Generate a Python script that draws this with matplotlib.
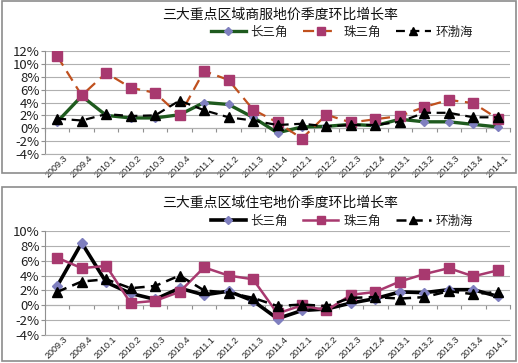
import numpy as np
import matplotlib.pyplot as plt
from matplotlib.patches import Rectangle
from matplotlib.ticker import FuncFormatter

plt.rcParams['font.family'] = ['Noto Sans CJK SC', 'DejaVu Sans']

quarters = ['2009.3', '2009.4', '2010.1', '2010.2', '2010.3', '2010.4',
            '2011.1', '2011.2', '2011.3', '2011.4', '2012.1', '2012.2',
            '2012.3', '2012.4', '2013.1', '2013.2', '2013.3', '2013.4', '2014.1']
names = ['长三角', '珠三角', '环渤海']

# 商服地价 (commercial), %
com_csj = [1.0, 5.0, 2.0, 1.6, 1.6, 2.1, 4.0, 3.7, 1.7, -0.7, 0.2, 0.3,
           0.6, 0.4, 1.4, 1.0, 1.0, 0.6, 0.2]
com_zsj = [11.2, 5.1, 8.6, 6.3, 5.5, 2.0, 8.9, 7.5, 2.9, 0.9, -1.6, 2.1,
           0.9, 1.4, 1.9, 3.3, 4.4, 3.9, 1.5]
com_hbh = [1.5, 1.2, 2.2, 1.9, 2.0, 4.3, 2.8, 1.7, 1.2, 0.5, 0.7, 0.3,
           0.5, 0.5, 1.0, 2.4, 2.4, 1.7, 1.7]

# 住宅地价 (residential), %
res_csj = [2.6, 8.4, 3.1, 1.6, 0.8, 2.3, 1.4, 1.9, 0.6, -1.8, -0.7, -0.5,
           0.3, 0.9, 1.8, 1.7, 2.1, 2.1, 1.2]
res_zsj = [6.4, 5.0, 5.3, 0.3, 0.6, 1.8, 5.1, 4.0, 3.5, -1.1, 0.0, -0.7,
           1.4, 1.8, 3.2, 4.2, 5.0, 3.9, 4.7]
res_hbh = [1.8, 3.2, 3.5, 2.3, 2.6, 4.0, 2.0, 1.7, 1.0, -0.1, 0.1, -0.1,
           1.0, 1.1, 0.9, 1.1, 1.9, 1.5, 1.8]

W, H = 518, 363
fig = plt.figure(figsize=(W / 100, H / 100), dpi=100)

def px(x0, y0, x1, y1):
    return [x0 / W, 1 - y1 / H, (x1 - x0) / W, (y1 - y0) / H]

# panel frames
for (y0, y1) in [(1, 173), (187, 361)]:
    fig.patches.append(Rectangle((2 / W, 1 - y1 / H), 514 / W, (y1 - y0) / H,
                                 transform=fig.transFigure, fill=False,
                                 edgecolor='#8c8c8c', linewidth=1.2))

def panel(rect, ymax, title, series, styles, title_y, leg_y):
    ax = fig.add_axes(rect)
    x = np.arange(len(quarters))
    handles = []
    for vals, st in zip(series, styles):
        h, = ax.plot(x, vals, **st)
        handles.append(h)
    ax.set_xlim(-0.5, len(quarters) - 0.5)
    ax.set_ylim(-4, ymax)
    ax.set_yticks(np.arange(-4, ymax + 0.1, 2))
    ax.yaxis.set_major_formatter(FuncFormatter(lambda v, p: '%d%%' % v))
    ax.grid(axis='y', color='#b0b0b0', linewidth=0.8)
    ax.set_axisbelow(True)
    for s in ['top', 'right']:
        ax.spines[s].set_visible(False)
    ax.spines['left'].set_color('#909090')
    ax.spines['bottom'].set_color('#b0b0b0')
    ax.tick_params(axis='y', length=3, color='#909090', labelsize=9.5,
                   pad=1, labelcolor='#202020')
    ax.set_xticks(x + 0.25)
    ax.set_xticklabels(quarters, rotation=45, ha='right', va='top',
                       rotation_mode='anchor', fontsize=6.5,
                       family='Liberation Sans', color='#202020')
    ax.tick_params(axis='x', length=0, pad=0)
    # category axis crossing at 0%
    sec = ax.secondary_xaxis(4 / (ymax + 4))
    sec.set_xticks(np.arange(len(quarters) + 1) - 0.5)
    sec.tick_params(length=3, color='#909090', labelbottom=False,
                    direction='out')
    sec.set_xticklabels([])
    sec.spines['bottom'].set_color('#909090')
    fig.text(0.54, 1 - title_y / H, title, ha='center', va='center',
             fontsize=10, color='#111111')
    fig.legend(handles, names, loc='center', ncol=3,
               bbox_to_anchor=(0.66, 1 - leg_y / H), frameon=False,
               fontsize=9, handlelength=2.8, columnspacing=1.2,
               handletextpad=0.4, labelcolor='#202020', markerscale=0.8)
    return ax

top_styles = [
    dict(color='#1e5a1e', lw=2.4, marker='D', ms=4.5, mfc='#7f7fbf', mec='#7f7fbf'),
    dict(color='#c0501e', lw=1.6, ls=(0, (5, 3)), marker='s', ms=7.5,
         mfc='#a8396f', mec='#a8396f'),
    dict(color='black', lw=1.6, ls=(0, (4, 2.5)), marker='^', ms=7.5,
         mfc='black', mec='black'),
]
bot_styles = [
    dict(color='black', lw=2.6, marker='D', ms=5, mfc='#7f7fbf', mec='#7f7fbf'),
    dict(color='#a8396f', lw=1.8, marker='s', ms=7.5, mfc='#a8396f', mec='#a8396f'),
    dict(color='black', lw=1.8, ls=(0, (4, 2.5)), marker='^', ms=7.5,
         mfc='black', mec='black'),
]

panel(px(45, 51, 510, 154), 12, '三大重点区域商服地价季度环比增长率',
      [com_csj, com_zsj, com_hbh], top_styles, 15, 32)
panel(px(45, 231, 510, 335), 10, '三大重点区域住宅地价季度环比增长率',
      [res_csj, res_zsj, res_hbh], bot_styles, 203, 221)

fig.savefig('out.png', dpi=100)
